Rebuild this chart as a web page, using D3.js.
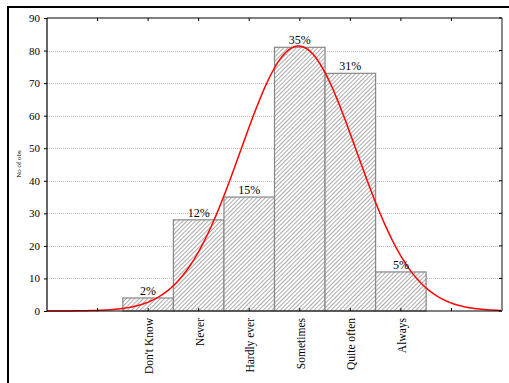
<!DOCTYPE html>
<html><head><meta charset="utf-8">
<script src="https://cdn.jsdelivr.net/npm/d3@7"></script>
<style>body{margin:0;background:#fff}</style>
</head><body>
<svg id="c" width="509" height="383"></svg>
<script>
const categories = ["Don't Know","Never","Hardly ever","Sometimes","Quite often","Always"];
const counts = [4, 28, 35, 81, 73, 12];
const percentLabels = ["2%","12%","15%","35%","31%","5%"];
const yTicks = [0,10,20,30,40,50,60,70,80,90];

const svg = d3.select("#c");
const L = 47, R = 502, T = 18, B = 311;
const x = d3.scaleLinear().domain([0, 9]).range([L, R]);
const y = d3.scaleLinear().domain([0, 90]).range([B, T]);
const pos = i => i + 2; // category i centered at slot i+2
const FONT = "'Liberation Serif', 'Times New Roman', serif";

const defs = svg.append("defs");
const pat = defs.append("pattern").attr("id","hatch").attr("patternUnits","userSpaceOnUse")
  .attr("width",3).attr("height",3).attr("patternTransform","rotate(45)");
pat.append("rect").attr("width",3).attr("height",3).attr("fill","#fff");
pat.append("line").attr("x1",0.5).attr("y1",0).attr("x2",0.5).attr("y2",3)
  .attr("stroke","#aaa").attr("stroke-width",1);

// outer frame
svg.append("line").attr("x1",8).attr("x2",509).attr("y1",7).attr("y2",7).attr("stroke","#000").attr("stroke-width",2);
svg.append("line").attr("x1",8).attr("x2",8).attr("y1",6).attr("y2",383).attr("stroke","#000").attr("stroke-width",2);

// grid
svg.append("g").selectAll("line").data(yTicks.filter(d=>d>0 && d<90)).join("line")
  .attr("x1",L).attr("x2",R).attr("y1",d=>Math.round(y(d))+0.5).attr("y2",d=>Math.round(y(d))+0.5)
  .attr("stroke","#bbb").attr("stroke-dasharray","1,1").attr("stroke-width",1);

// bars
const bw = x(1) - x(0);
svg.append("g").selectAll("rect").data(counts).join("rect")
  .attr("x",(d,i)=>x(pos(i)) - bw/2).attr("width",bw)
  .attr("y",d=>y(d)).attr("height",d=>y(0)-y(d))
  .attr("fill","url(#hatch)").attr("stroke","#888").attr("stroke-width",1.2);

// normal fit derived from counts (codes 1..6)
const N = d3.sum(counts);
const mean = d3.sum(counts,(c,i)=>c*(i+1))/N;
const sd = Math.sqrt(d3.sum(counts,(c,i)=>c*(i+1-mean)**2)/N);
const xs = d3.range(0, 9.001, 0.05);
const line = d3.line().x(d=>x(d)).y(d=>{
  const z = (d - 1 - mean)/sd;
  return y(N/(sd*Math.sqrt(2*Math.PI))*Math.exp(-0.5*z*z));
});
svg.append("path").datum(xs).attr("d",line).attr("fill","none").attr("stroke","#f00").attr("stroke-width",1.5);

// percent labels
svg.append("g").selectAll("text").data(counts).join("text")
  .attr("x",(d,i)=>x(pos(i))).attr("y",d=>y(d)-3)
  .attr("text-anchor","middle").attr("font-family",FONT).attr("font-size",12)
  .text((d,i)=>percentLabels[i]);

// axes frame
svg.append("line").attr("x1",L).attr("x2",L).attr("y1",T).attr("y2",B).attr("stroke","#000").attr("stroke-width",1.2);
svg.append("line").attr("x1",L).attr("x2",R).attr("y1",B).attr("y2",B).attr("stroke","#000").attr("stroke-width",1.2);
svg.append("line").attr("x1",L).attr("x2",R).attr("y1",T).attr("y2",T).attr("stroke","#000").attr("stroke-width",1.2);
svg.append("line").attr("x1",R).attr("x2",R).attr("y1",T).attr("y2",B).attr("stroke","#888").attr("stroke-width",2);

// y axis
const yAxis = d3.axisLeft(y).tickValues(yTicks).tickSize(3).tickPadding(4);
const gy = svg.append("g").attr("transform",`translate(${L},0)`).call(yAxis);
gy.select(".domain").remove();
gy.selectAll("text").attr("font-family",FONT).attr("font-size",11).attr("fill","#000");
// right ticks
svg.append("g").selectAll("line").data(yTicks).join("line")
  .attr("x1",R-3).attr("x2",R).attr("y1",d=>y(d)).attr("y2",d=>y(d)).attr("stroke","#000");

// x ticks bottom/top
const xt = d3.range(1,9);
svg.append("g").selectAll("line").data(xt).join("line")
  .attr("x1",d=>x(d)).attr("x2",d=>x(d)).attr("y1",B-3).attr("y2",B).attr("stroke","#000");
svg.append("g").selectAll("line").data(xt).join("line")
  .attr("x1",d=>x(d)).attr("x2",d=>x(d)).attr("y1",T).attr("y2",T+3).attr("stroke","#000");

// category labels
svg.append("g").selectAll("text").data(categories).join("text")
  .attr("transform",(d,i)=>`translate(${x(pos(i))+5},${B+7}) rotate(-90)`)
  .attr("text-anchor","end").attr("font-family",FONT).attr("font-size",11.5)
  .text(d=>d);

// y title
svg.append("text").attr("transform",`translate(21,164) rotate(-90)`).attr("text-anchor","middle")
  .attr("font-family",FONT).attr("font-size",7).text("No of obs");
</script>
</body></html>
